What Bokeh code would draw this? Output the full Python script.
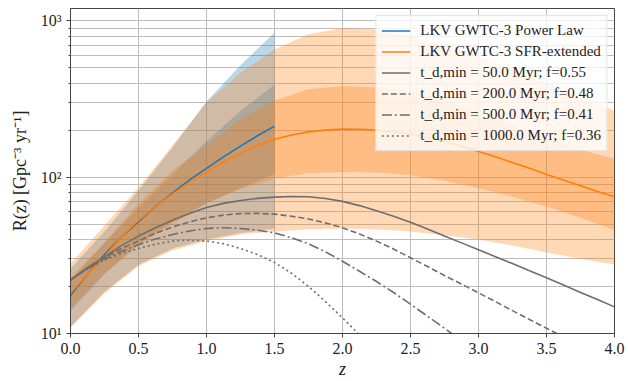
from bokeh.plotting import figure
from bokeh.models import Range1d, FixedTicker, Legend, LegendItem, PrintfTickFormatter
from bokeh.embed import file_html
from bokeh.resources import INLINE

# ---- data ----
# band grid
z = [0.0, 0.25, 0.5, 0.75, 1.0, 1.25, 1.5, 1.75, 2.0, 2.25, 2.5, 2.75, 3.0, 3.25, 3.5, 3.75, 4.0]
# line grid
zl = [0.0, 0.125, 0.25, 0.375, 0.5, 0.625, 0.75, 0.875, 1.0, 1.125, 1.25, 1.375, 1.5,
      1.625, 1.75, 1.875, 2.0, 2.125, 2.25, 2.375, 2.5, 2.625, 2.75, 2.875, 3.0,
      3.125, 3.25, 3.375, 3.5, 3.625, 3.75, 3.875, 4.0]

# LKV GWTC-3 SFR-extended (orange)
sfr_med = [18, 24, 31, 41.5, 53, 65, 78, 93, 108, 125, 142, 159, 175, 186, 195, 200, 203,
           202.5, 200, 195, 189, 180, 169, 158, 146, 135, 124, 114, 104, 96, 88, 81, 75]
sfr_hi90 = [28, 49, 86, 160, 300, 465, 655, 820, 900, 880, 800, 700, 594, 490, 400, 325, 266]
sfr_hi50 = [23, 38, 68, 110, 160, 235, 310, 365, 383, 375, 356, 310, 261, 215, 175, 150, 131]
sfr_lo50 = [14.5, 24, 37, 50, 68, 84, 98, 106, 108, 107, 103, 95, 85, 75, 65, 55, 46]
sfr_lo90 = [10.9, 18, 27, 34, 39, 43, 45, 46.5, 47, 46.5, 45, 42.5, 40, 36.5, 33, 30, 27.6]

# LKV GWTC-3 Power Law (blue), defined up to z = 1.5
z_pl = [0.0, 0.25, 0.5, 0.75, 1.0, 1.25, 1.5]
zl_pl = [0.0, 0.125, 0.25, 0.375, 0.5, 0.625, 0.75, 0.875, 1.0, 1.125, 1.25, 1.375, 1.5]
pl_med = [17.5, 24, 32, 41.5, 52, 65, 79, 96, 114, 135, 158, 184, 212]
pl_hi90 = [26, 45, 82, 155, 305, 520, 840]
pl_hi50 = [22, 38, 64, 105, 170, 265, 390]
pl_lo50 = [14, 24, 37, 52, 68, 85, 105]
pl_lo90 = [11, 18.5, 27.5, 35, 40, 44, 47]

# delay-time models (grey)
td50 = [22, 26.5, 31, 36.5, 42, 47.5, 53, 58.5, 64, 68, 71, 73.2, 74.5, 75.2, 75, 73, 70,
        65.8, 61, 56.3, 51.5, 46.6, 42, 38, 34.3, 31, 28, 25.2, 22.7, 20.4, 18.3, 16.5, 14.8]
td200 = [22, 26, 30.5, 35, 39, 43.8, 48, 51.8, 55, 57.2, 58.5, 58.7, 58, 56.3, 54, 51, 47.5,
         43.3, 39, 34.7, 30.5, 26.8, 23.5, 20.7, 18.2, 16, 14, 12.3, 10.8, 9.5, 8.3, 7.3, 6.4]
td500 = [22, 26, 30, 33.5, 37, 40.2, 43, 45.3, 47, 47.5, 47, 45.8, 44, 41, 37.5, 33.3, 29,
         25, 21.5, 18.3, 15.4, 12.9, 10.8, 9, 7.4, 6.1, 5, 4.1, 3.4, 2.8, 2.3, 1.9, 1.6]
td1000 = [22, 26, 29.5, 32.5, 35, 37.3, 39, 39.6, 39, 37.5, 35, 32, 28.5, 24.3, 20, 16, 12.6,
          9.8, 7.5, 5.8, 4.5, 3.5, 2.7, 2.1, 1.6, 1.3, 1.0, 0.8, 0.6, 0.5, 0.4, 0.3, 0.25]

labels = [
    "LKV GWTC-3 Power Law",
    "LKV GWTC-3 SFR-extended",
    "t_d,min = 50.0 Myr; f=0.55",
    "t_d,min = 200.0 Myr; f=0.48",
    "t_d,min = 500.0 Myr; f=0.41",
    "t_d,min = 1000.0 Myr; f=0.36",
]
x_ticks = [0.0, 0.5, 1.0, 1.5, 2.0, 2.5, 3.0, 3.5, 4.0]
y_major = [10, 100, 1000]
y_minor = [20, 30, 40, 50, 60, 70, 80, 90, 200, 300, 400, 500, 600, 700, 800, 900]
y_labels = {10: "10¹", 100: "10²", 1000: "10³"}

BLUE = "#1f77b4"
ORANGE = "#ff7f0e"
GREY = "#6e6e6e"
FONT = "Liberation Serif"

p = figure(width=628, height=381, x_range=Range1d(0, 4), y_range=Range1d(10, 1200),
           y_axis_type="log", output_backend="svg", toolbar_location=None,
           min_border_left=70, min_border_right=14, min_border_top=8, min_border_bottom=45)
p.background_fill_color = "white"
p.border_fill_color = "white"
p.outline_line_color = "#444444"
p.outline_line_width = 1

# bands
p.varea(x=z_pl, y1=pl_lo90, y2=pl_hi90, fill_color=BLUE, fill_alpha=0.3)
p.varea(x=z_pl, y1=pl_lo50, y2=pl_hi50, fill_color=BLUE, fill_alpha=0.3)
p.varea(x=z, y1=sfr_lo90, y2=sfr_hi90, fill_color=ORANGE, fill_alpha=0.3)
p.varea(x=z, y1=sfr_lo50, y2=sfr_hi50, fill_color=ORANGE, fill_alpha=0.3)

# lines
r_pl = p.line(zl_pl, pl_med, line_color=BLUE, line_width=1.6)
r_sfr = p.line(zl, sfr_med, line_color=ORANGE, line_width=1.6)
r1 = p.line(zl, td50, line_color=GREY, line_width=1.6)
r2 = p.line(zl, td200, line_color=GREY, line_width=1.6, line_dash="6 3")
r3 = p.line(zl, td500, line_color=GREY, line_width=1.6, line_dash="10 3 2 3")
r4 = p.line(zl, td1000, line_color=GREY, line_width=1.6, line_dash="2 3")

# axes
p.xaxis.ticker = FixedTicker(ticks=x_ticks)
p.xaxis.formatter = PrintfTickFormatter(format="%.1f")
p.yaxis.ticker = FixedTicker(ticks=y_major, minor_ticks=y_minor)
p.yaxis.major_label_overrides = y_labels
for ax in (p.xaxis, p.yaxis):
    ax.axis_line_color = "#444444"
    ax.major_tick_line_color = "#444444"
    ax.minor_tick_line_color = "#444444"
    ax.major_tick_in = 0
    ax.major_tick_out = 4
    ax.minor_tick_in = 0
    ax.minor_tick_out = 2
    ax.major_label_text_font = FONT
    ax.major_label_text_font_size = "16px"
    ax.major_label_text_color = "#222222"
    ax.axis_label_text_font = FONT
    ax.axis_label_text_font_size = "18px"
    ax.axis_label_text_color = "#222222"
p.xaxis.minor_tick_line_color = None
p.xaxis.axis_label = "z"
p.xaxis.axis_label_text_font_style = "italic"
p.xaxis.axis_label_standoff = 2
p.yaxis.axis_label = "R(z) [Gpc⁻³ yr⁻¹]"
p.yaxis.axis_label_text_font_style = "normal"
p.yaxis.axis_label_standoff = 8

p.xgrid.grid_line_color = "#bdbdbd"
p.ygrid.grid_line_color = "#bdbdbd"
p.ygrid.minor_grid_line_color = "#bdbdbd"
p.xgrid.grid_line_width = 1
p.ygrid.grid_line_width = 1

legend = Legend(items=[
    LegendItem(label=labels[0], renderers=[r_pl]),
    LegendItem(label=labels[1], renderers=[r_sfr]),
    LegendItem(label=labels[2], renderers=[r1]),
    LegendItem(label=labels[3], renderers=[r2]),
    LegendItem(label=labels[4], renderers=[r3]),
    LegendItem(label=labels[5], renderers=[r4]),
], location="top_right")
legend.label_text_font = FONT
legend.label_text_font_size = "15px"
legend.label_text_color = "#222222"
legend.glyph_width = 29
legend.glyph_height = 19
legend.label_height = 19
legend.spacing = 2
legend.padding = 5
legend.margin = 7
legend.label_standoff = 10
legend.background_fill_color = "white"
legend.background_fill_alpha = 0.8
legend.border_line_color = "#dddddd"
legend.border_line_alpha = 0.8
p.add_layout(legend)

open("out.html", "w").write(file_html(p, INLINE))
